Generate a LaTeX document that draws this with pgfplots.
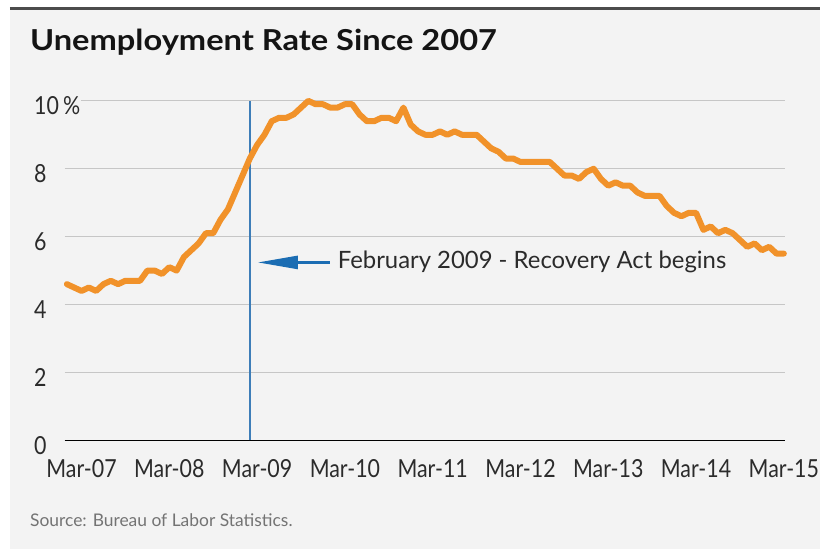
\documentclass[border=0pt]{standalone}
\usepackage{fontspec}
\setmainfont{Lato}
\newfontfamily\condfont{Lato}[FakeStretch=0.86]
\newfontfamily\widefont{Lato}[FakeStretch=1.13]
\usepackage{pgfplots}
\usepackage{pgfplotstable}
\pgfplotsset{compat=1.18}
\usetikzlibrary{arrows.meta}
\definecolor{bgc}{HTML}{F3F3F3}
\definecolor{orangeline}{HTML}{F1922A}
\definecolor{blueline}{HTML}{3D7DB8}
\definecolor{arrowblue}{HTML}{1B6DB3}
\definecolor{gridc}{HTML}{C6C6C6}
\definecolor{txt}{HTML}{2B2B2B}

\pgfplotstableread{
m rate
0 4.6
1 4.5
2 4.4
3 4.5
4 4.4
5 4.6
6 4.7
7 4.6
8 4.7
9 4.7
10 4.7
11 5.0
12 5.0
13 4.9
14 5.1
15 5.0
16 5.4
17 5.6
18 5.8
19 6.1
20 6.1
21 6.5
22 6.8
23 7.3
24 7.8
25 8.3
26 8.7
27 9.0
28 9.4
29 9.5
30 9.5
31 9.6
32 9.8
33 10.0
34 9.9
35 9.9
36 9.8
37 9.8
38 9.9
39 9.9
40 9.6
41 9.4
42 9.4
43 9.5
44 9.5
45 9.4
46 9.8
47 9.3
48 9.1
49 9.0
50 9.0
51 9.1
52 9.0
53 9.1
54 9.0
55 9.0
56 9.0
57 8.8
58 8.6
59 8.5
60 8.3
61 8.3
62 8.2
63 8.2
64 8.2
65 8.2
66 8.2
67 8.0
68 7.8
69 7.8
70 7.7
71 7.9
72 8.0
73 7.7
74 7.5
75 7.6
76 7.5
77 7.5
78 7.3
79 7.2
80 7.2
81 7.2
82 6.9
83 6.7
84 6.6
85 6.7
86 6.7
87 6.2
88 6.3
89 6.1
90 6.2
91 6.1
92 5.9
93 5.7
94 5.8
95 5.6
96 5.7
97 5.5
98 5.5
}\ratedata

\begin{document}
\begin{tikzpicture}[x=1bp,y=1bp]
\fill[white] (0,0) rectangle (821,550);
\fill[bgc] (10,0) rectangle (821,541);
\draw[line width=2.5bp, color=black!70] (10,541.5) -- (821,541.5);
\node[anchor=base west, font=\widefont\fontsize{29}{31}\selectfont\bfseries, text=black!92, inner sep=0] at (30,499) {Unemployment Rate Since 2007};
\node[anchor=base west, font=\fontsize{17.5}{19}\selectfont, text=black!55, inner sep=0] at (30,23) {Source: Bureau of Labor Statistics.};
\begin{axis}[
  at={(64.8bp,109bp)}, anchor=south west, scale only axis,
  width=721.7bp, height=340bp,
  xmin=-0.3, xmax=98.2, ymin=0, ymax=10, clip=false,
  axis x line*=bottom, axis y line*=left,
  x axis line style={-, black, line width=1.5bp},
  y axis line style={draw=none},
  major tick length=0pt,
  ymajorgrids, grid style={gridc, line width=0.9bp},
  ytick={0,2,4,6,8,10},
  yticklabels={0,2,4,6,8,10\,\%},
  yticklabel style={anchor=west, xshift=-31.8bp, yshift=-5bp, inner sep=1bp, fill=bgc,
     font=\condfont\fontsize{25}{27}\selectfont, text=txt},
  xtick={2,14,26,38,50,62,74,86,98},
  xticklabels={Mar-07,Mar-08,Mar-09,Mar-10,Mar-11,Mar-12,Mar-13,Mar-14,Mar-15},
  xticklabel style={anchor=north, inner sep=0pt, yshift=-19bp,
     font=\condfont\fontsize{25}{27}\selectfont, text=txt},
]
\draw[blueline, line width=1.5bp] (axis cs:25,0) -- (axis cs:25,10);
\addplot[orangeline, line width=6bp, line join=round, line cap=round] table[x=m, y=rate] {\ratedata};
\draw[arrowblue, line width=2.5bp, -{Triangle[length=40bp, width=13bp]}] (axis cs:35.9,5.24) -- (axis cs:26.1,5.24);
\node[anchor=base west, inner sep=0, font=\fontsize{24}{26}\selectfont, text=txt] at (axis cs:37.0,5.06) {February 2009 - Recovery Act begins};
\end{axis}
\end{tikzpicture}
\end{document}
